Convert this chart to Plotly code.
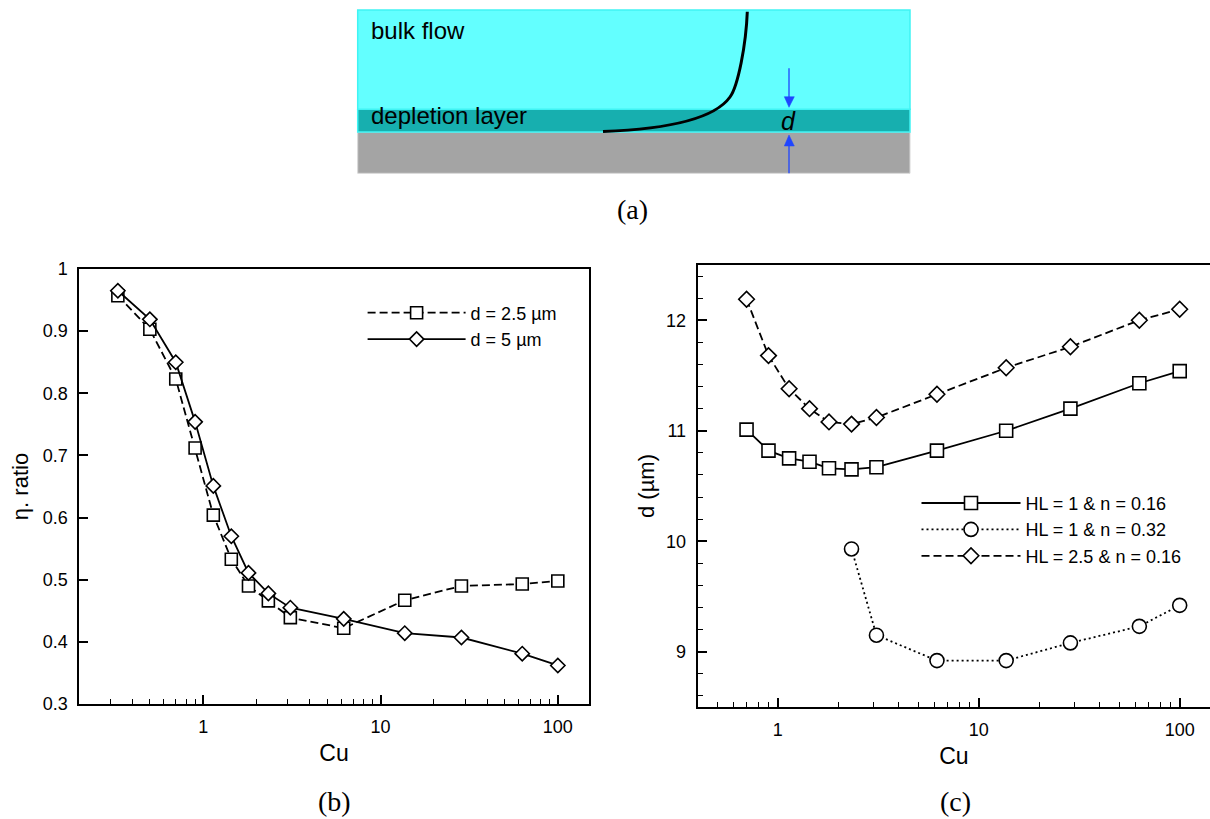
import math
import plotly.graph_objects as go

W, H = 1210, 819

# ---------------- data ----------------
cu_b = [0.33, 0.5, 0.7, 0.9, 1.14, 1.44, 1.8, 2.33, 3.1, 6.2, 13.7, 28.6, 63, 100]
eta_d25 = [0.957, 0.903, 0.823, 0.712, 0.604, 0.533, 0.490, 0.466, 0.439, 0.422, 0.467, 0.490, 0.493, 0.498]
eta_d5 = [0.965, 0.919, 0.850, 0.754, 0.651, 0.570, 0.511, 0.478, 0.455, 0.437, 0.414, 0.407, 0.381, 0.362]

cu_c = [0.7, 0.9, 1.14, 1.44, 1.8, 2.33, 3.1, 6.2, 13.7, 28.6, 63, 100]
d_hl1_n016 = [11.01, 10.82, 10.75, 10.72, 10.66, 10.65, 10.67, 10.82, 11.00, 11.20, 11.43, 11.54]
d_hl25_n016 = [12.19, 11.68, 11.38, 11.20, 11.08, 11.06, 11.12, 11.33, 11.57, 11.76, 12.00, 12.10]
cu_c_n032 = [2.33, 3.1, 6.2, 13.7, 28.6, 63, 100]
d_hl1_n032 = [9.93, 9.15, 8.92, 8.92, 9.08, 9.23, 9.42]

x_tickvals = [1, 10, 100]
x_ticktext = ["1", "10", "100"]
yb_tickvals = [0.3, 0.4, 0.5, 0.6, 0.7, 0.8, 0.9, 1.0]
yb_ticktext = ["0.3", "0.4", "0.5", "0.6", "0.7", "0.8", "0.9", "1"]
yc_tickvals = [9, 10, 11, 12]
yc_ticktext = ["9", "10", "11", "12"]

names_b = ["d = 2.5 \u00b5m", "d = 5 \u00b5m"]
names_c = ["HL = 1 & n = 0.16", "HL = 1 & n = 0.32", "HL = 2.5 & n = 0.16"]

# ---------------- helpers ----------------
def px(x):
    return x / W

def py(y):
    return 1 - y / H

FONT = "Liberation Sans, Arial, Helvetica, sans-serif"
SERIF = "Liberation Serif, Times New Roman, serif"

minor_x = [m * 10 ** e for e in (-1, 0, 1, 2) for m in range(2, 10)]
minor_yc = [round(8.6 + 0.2 * i, 1) for i in range(20)]

fig = go.Figure()

mk_line = dict(color="black", width=1.6)

# (b)
fig.add_trace(go.Scatter(
    x=cu_b, y=eta_d25, name=names_b[0], mode="lines+markers",
    line=dict(color="black", width=1.8, dash="8px,4px"),
    marker=dict(symbol="square", size=12, color="white", line=mk_line),
    xaxis="x", yaxis="y", legend="legend"))
fig.add_trace(go.Scatter(
    x=cu_b, y=eta_d5, name=names_b[1], mode="lines+markers",
    line=dict(color="black", width=1.8),
    marker=dict(symbol="diamond", size=11, color="white", line=mk_line),
    xaxis="x", yaxis="y", legend="legend"))

# (c)
fig.add_trace(go.Scatter(
    x=cu_c, y=d_hl1_n016, name=names_c[0], mode="lines+markers",
    line=dict(color="black", width=1.8),
    marker=dict(symbol="square", size=13, color="white", line=mk_line),
    xaxis="x2", yaxis="y2", legend="legend2"))
fig.add_trace(go.Scatter(
    x=cu_c_n032, y=d_hl1_n032, name=names_c[1], mode="lines+markers",
    line=dict(color="black", width=1.8, dash="2px,3px"),
    marker=dict(symbol="circle", size=14, color="white", line=mk_line),
    xaxis="x2", yaxis="y2", legend="legend2"))
fig.add_trace(go.Scatter(
    x=cu_c, y=d_hl25_n016, name=names_c[2], mode="lines+markers",
    line=dict(color="black", width=1.8, dash="8px,4px"),
    marker=dict(symbol="diamond", size=12, color="white", line=mk_line),
    xaxis="x2", yaxis="y2", legend="legend2"))

axis_common = dict(
    showline=True, linecolor="black", linewidth=2, showgrid=False, zeroline=False,
    ticks="inside", ticklen=9, tickwidth=1.5, tickcolor="black", automargin=False,
    tickfont=dict(family=FONT, size=18, color="black"),
)

fig.update_layout(
    width=W, height=H, margin=dict(l=0, r=0, t=0, b=0, pad=0, autoexpand=False),
    paper_bgcolor="white", plot_bgcolor="white",
    font=dict(family=FONT, color="black"),
    xaxis=dict(
        type="log", domain=[px(79.3), px(588.7)],
        range=[math.log10(0.2), math.log10(0.2) + (588.7 - 79.3) / 177.3],
        tickvals=x_tickvals, ticktext=x_ticktext, mirror=True,
        minor=dict(tickvals=minor_x, ticks="inside", ticklen=5, tickwidth=1.2, tickcolor="black"),
        title=dict(text="Cu", font=dict(family=FONT, size=23), standoff=9),
        anchor="y", ticklabelstandoff=5, **axis_common),
    yaxis=dict(
        domain=[py(704), py(269)], range=[0.3, 1.0],
        tickvals=yb_tickvals, ticktext=yb_ticktext, mirror=True,
        title=dict(text="\u03b7. ratio", font=dict(family=FONT, size=22), standoff=8),
        anchor="x", ticklabelstandoff=6, **axis_common),
    xaxis2=dict(
        type="log", domain=[px(697.7), 1.0],
        range=[math.log10(0.4), math.log10(0.4) + (1210 - 697.7) / 201.0],
        tickvals=x_tickvals, ticktext=x_ticktext, mirror=True,
        minor=dict(tickvals=minor_x, ticks="inside", ticklen=5, tickwidth=1.2, tickcolor="black"),
        title=dict(text="Cu", font=dict(family=FONT, size=23), standoff=9),
        anchor="y2", ticklabelstandoff=5, **axis_common),
    yaxis2=dict(
        domain=[py(707), py(265)], range=[8.5, 12.5],
        tickvals=yc_tickvals, ticktext=yc_ticktext, mirror=False,
        minor=dict(tickvals=minor_yc, ticks="inside", ticklen=5, tickwidth=1.2, tickcolor="black"),
        title=dict(text="d (\u00b5m)", font=dict(family=FONT, size=22), standoff=5),
        anchor="x2", ticklabelstandoff=6, **axis_common),
    legend=dict(
        x=px(362.6), y=py(294.5), xanchor="left", yanchor="top",
        bgcolor="rgba(0,0,0,0)", font=dict(family=FONT, size=18),
        itemwidth=98, tracegroupgap=0),
    legend2=dict(
        x=px(916.5), y=py(484.8), xanchor="left", yanchor="top",
        bgcolor="rgba(0,0,0,0)", font=dict(family=FONT, size=18),
        itemwidth=99, tracegroupgap=0),
)

# ---------------- schematic (a) ----------------
def P(x, y):
    return f"{px(x):.5f},{py(y):.5f}"

shapes = []
L, R = 357.7, 910
shapes.append(dict(type="rect", xref="paper", yref="paper", x0=px(L), x1=px(R), y0=py(132), y1=py(173.3),
                   fillcolor="#A4A4A4", line=dict(color="#D8D8D8", width=1), layer="above"))
shapes.append(dict(type="rect", xref="paper", yref="paper", x0=px(L), x1=px(R), y0=py(109.3), y1=py(132),
                   fillcolor="#17AFAF", line=dict(color="#40F4F4", width=1.5), layer="above"))
shapes.append(dict(type="rect", xref="paper", yref="paper", x0=px(L), x1=px(R), y0=py(10), y1=py(109.3),
                   fillcolor="#63FFFF", line=dict(color="#40F4F4", width=1.5), layer="above"))
curve = ("M" + P(603, 131.5) + " C" + P(670, 129) + " " + P(715, 118) + " " + P(730, 97)
         + " C" + P(738, 86) + " " + P(746, 45) + " " + P(747.3, 11.7))
shapes.append(dict(type="path", xref="paper", yref="paper", path=curve,
                   line=dict(color="black", width=3), layer="above"))
BLUE = "#1F45FF"
shapes.append(dict(type="line", xref="paper", yref="paper", x0=px(789), x1=px(789), y0=py(68.3), y1=py(98),
                   line=dict(color=BLUE, width=1.3), layer="above"))
shapes.append(dict(type="path", xref="paper", yref="paper",
                   path="M" + P(784.3, 96.7) + " L" + P(794.3, 96.7) + " L" + P(789, 107.3) + " Z",
                   fillcolor=BLUE, line=dict(color=BLUE, width=0.5), layer="above"))
shapes.append(dict(type="line", xref="paper", yref="paper", x0=px(789), x1=px(789), y0=py(145), y1=py(173.3),
                   line=dict(color=BLUE, width=1.3), layer="above"))
shapes.append(dict(type="path", xref="paper", yref="paper",
                   path="M" + P(784.3, 146) + " L" + P(794.3, 146) + " L" + P(789, 135) + " Z",
                   fillcolor=BLUE, line=dict(color=BLUE, width=0.5), layer="above"))
fig.update_layout(shapes=shapes)

ann = [
    dict(text="bulk flow", x=px(369), y=py(30.5), xanchor="left", yanchor="middle",
         font=dict(family=FONT, size=24, color="black")),
    dict(text="depletion layer", x=px(369), y=py(116), xanchor="left", yanchor="middle",
         font=dict(family=FONT, size=24, color="black")),
    dict(text="<i>d</i>", x=px(788.5), y=py(120.5), xanchor="center", yanchor="middle",
         font=dict(family=FONT, size=25, color="black")),
    dict(text="(a)", x=px(632), y=py(210), xanchor="center", yanchor="middle",
         font=dict(family=SERIF, size=28, color="black")),
    dict(text="(b)", x=px(334), y=py(801), xanchor="center", yanchor="middle",
         font=dict(family=SERIF, size=28, color="black")),
    dict(text="(c)", x=px(955), y=py(801), xanchor="center", yanchor="middle",
         font=dict(family=SERIF, size=28, color="black")),
]
for a in ann:
    a.update(xref="paper", yref="paper", showarrow=False)
fig.update_layout(annotations=ann)

fig.write_html("out.html")
